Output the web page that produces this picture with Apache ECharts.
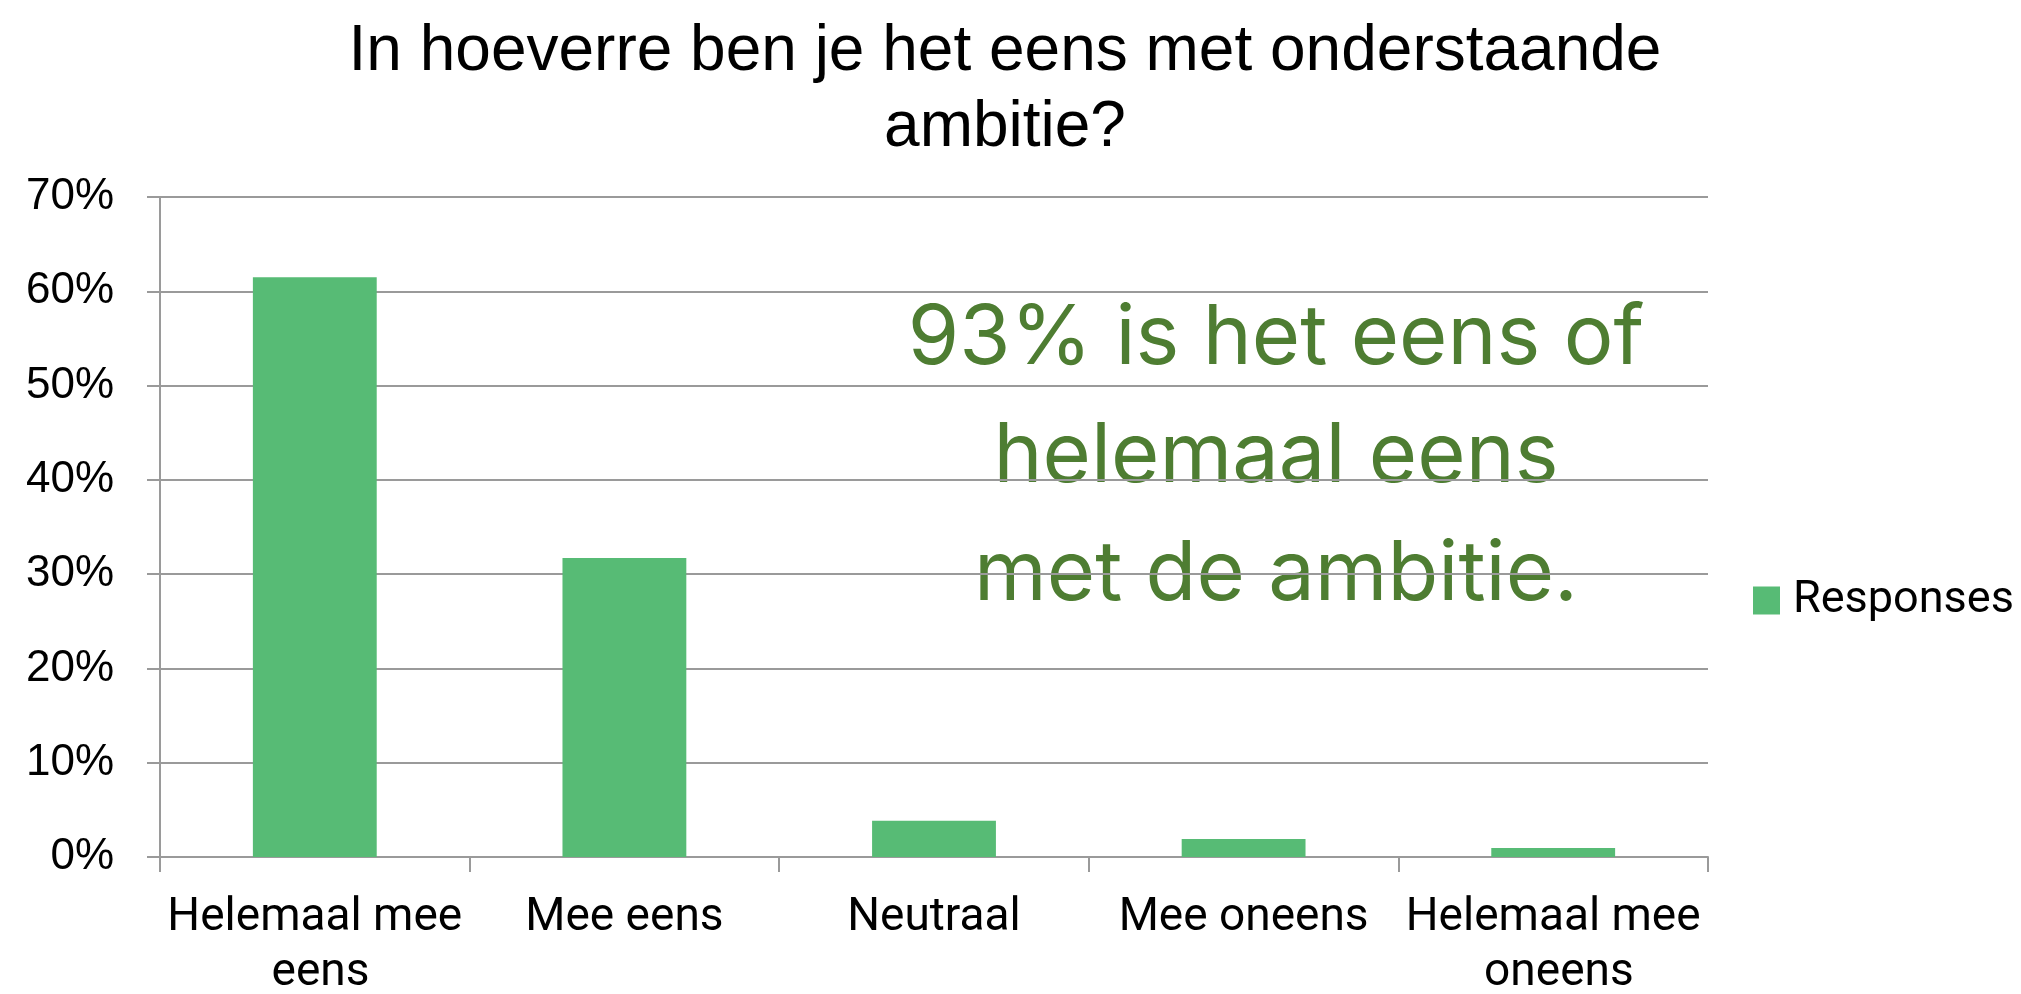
<!DOCTYPE html>
<html>
<head>
<meta charset="utf-8">
<title>Ambitie</title>
<script src="https://cdn.jsdelivr.net/npm/echarts@6/dist/echarts.min.js"></script>
<style>
  html, body { margin: 0; padding: 0; background: #fff; }
  #chart { width: 2021px; height: 994px; }
</style>
</head>
<body>
<div id="chart"></div>
<script>
// answer categories and share of responses
const categories = ["Helemaal mee eens", "Mee eens", "Neutraal", "Mee oneens", "Helemaal mee oneens"];
const responses = [0.615, 0.317, 0.0385, 0.0192, 0.0096];
const seriesName = "Responses";
const titleText = "In hoeverre ben je het eens met onderstaande\nambitie?";
const noteLines = ["93% is het eens of", "helemaal eens", "met de ambitie."];

const chart = echarts.init(document.getElementById("chart"));

window.addEventListener("resize", () => {
  chart.resize();
});

const gridColor = "#9a9a9a";

let option = {
  animation: false,
  title: {
    text: titleText,
    left: 1000,
    textAlign: "center",
    top: 9,
    textStyle: {
      fontFamily: "Liberation Sans",
      fontWeight: "normal",
      fontSize: 64,
      lineHeight: 76,
      color: "#000"
    }
  },
  legend: {
    data: [seriesName],
    orient: "vertical",
    left: 1748,
    top: 573,
    icon: "rect",
    itemWidth: 27,
    itemHeight: 28,
    textStyle: {
      fontFamily: "Roboto",
      fontSize: 45,
      color: "#000",
      padding: [0, 0, 0, 8]
    }
  },
  grid: {
    left: 160,
    right: 313,
    top: 197,
    bottom: 137,
    outerBoundsMode: "none"
  },
  xAxis: {
    type: "category",
    data: categories,
    axisLine: { lineStyle: { color: gridColor, width: 2 } },
    axisTick: { show: true, length: 15, lineStyle: { color: gridColor, width: 2 } },
    axisLabel: {
      interval: 0,
      margin: 34,
      width: 305,
      overflow: "break",
      fontFamily: "Roboto",
      fontSize: 46,
      lineHeight: 55,
      color: "#000"
    }
  },
  yAxis: {
    type: "value",
    min: 0,
    max: 0.7,
    interval: 0.1,
    axisLine: { show: true, lineStyle: { color: gridColor, width: 2 } },
    axisTick: { show: true, length: 13, lineStyle: { color: gridColor, width: 2 } },
    splitLine: { lineStyle: { color: gridColor, width: 2 } },
    axisLabel: {
      margin: 46,
      fontFamily: "Liberation Sans",
      fontSize: 44,
      color: "#000",
      formatter: (v) => Math.round(v * 100) + "%"
    }
  },
  graphic: [
    {
      type: "text",
      x: 1276,
      y: 457,
      style: {
        text: noteLines.join("\n"),
        textAlign: "center",
        textVerticalAlign: "middle",
        fontFamily: "Inter",
        fontSize: 83,
        lineHeight: 118,
        fill: "#4e7d32"
      }
    }
  ],
  series: [
    {
      name: seriesName,
      type: "bar",
      data: responses,
      barCategoryGap: "60%",
      itemStyle: { color: "#57bb75" }
    }
  ]
};

chart.setOption(option);
</script>
</body>
</html>
